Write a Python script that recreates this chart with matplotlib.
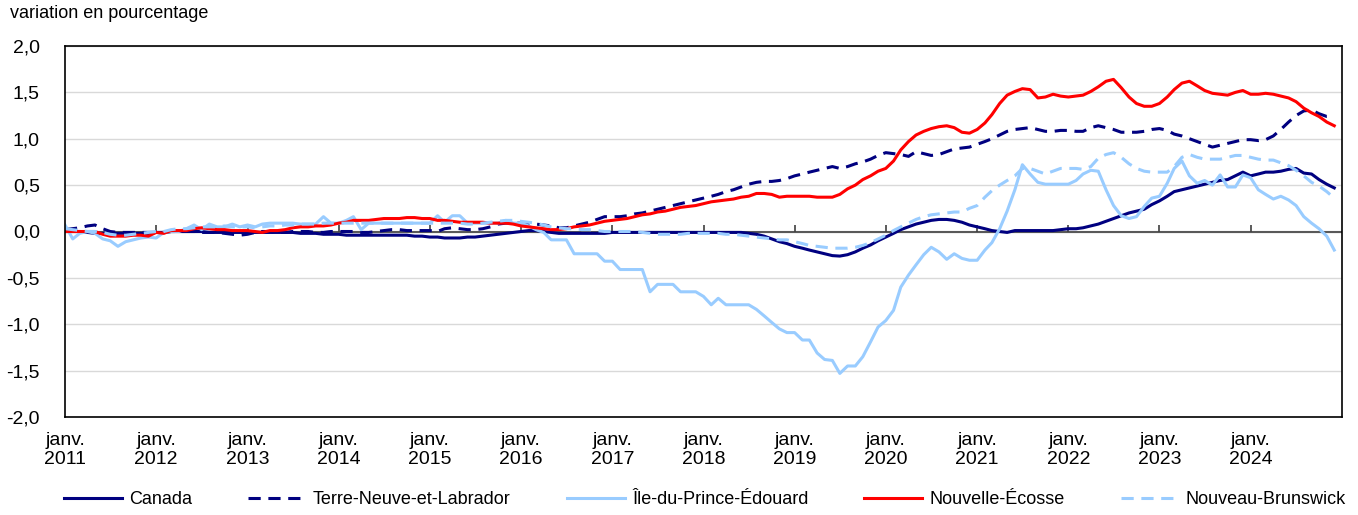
import matplotlib
matplotlib.use("Agg")
import matplotlib.pyplot as plt
import matplotlib.ticker as mticker
import pandas as pd

plt.rcParams['font.family'] = ['Liberation Sans', 'DejaVu Sans']
plt.rcParams['font.size'] = 13

# variation mensuelle en pourcentage, janv. 2011 a déc. 2024
mois = pd.date_range("2011-01-01", periods=168, freq="MS")

canada = [
    0.00, 0.00, 0.00, -0.01, -0.02, -0.02, -0.02, -0.02, -0.02, -0.02, -0.02, -0.02,
    -0.01, -0.01, 0.00, 0.00, 0.00, 0.00, 0.00, -0.01, -0.01, -0.01, -0.01, -0.01,
    -0.01, -0.01, -0.01, -0.01, -0.01, -0.01, -0.01, -0.02, -0.02, -0.02, -0.03, -0.03,
    -0.03, -0.04, -0.04, -0.04, -0.04, -0.04, -0.04, -0.04, -0.04, -0.04, -0.05, -0.05,
    -0.06, -0.06, -0.07, -0.07, -0.07, -0.06, -0.06, -0.05, -0.04, -0.03, -0.02, -0.01,
    0.00, 0.01, 0.01, 0.00, -0.01, -0.02, -0.02, -0.02, -0.02, -0.02, -0.02, -0.02,
    -0.01, -0.01, -0.01, -0.01, -0.01, -0.01, -0.01, -0.01, -0.01, -0.01, -0.01, -0.01,
    -0.01, -0.01, -0.01, -0.01, -0.01, -0.01, -0.02, -0.03, -0.05, -0.08, -0.11, -0.13,
    -0.16, -0.18, -0.20, -0.22, -0.24, -0.26, -0.265, -0.25, -0.22, -0.18, -0.145, -0.10,
    -0.06, -0.02, 0.02, 0.05, 0.08, 0.10, 0.12, 0.13, 0.13, 0.12, 0.10, 0.07,
    0.05, 0.03, 0.01, 0.00, -0.01, 0.01, 0.01, 0.01, 0.01, 0.01, 0.01, 0.02,
    0.03, 0.03, 0.04, 0.06, 0.08, 0.11, 0.14, 0.17, 0.20, 0.22, 0.24, 0.29,
    0.33, 0.38, 0.43, 0.45, 0.47, 0.49, 0.51, 0.53, 0.55, 0.56, 0.60, 0.64,
    0.60, 0.62, 0.64, 0.64, 0.65, 0.67, 0.68, 0.63, 0.62, 0.56, 0.51, 0.47,
]

terre_neuve = [
    0.02, 0.03, 0.04, 0.06, 0.07, 0.03, 0.00, -0.01, -0.01, -0.01, -0.01, -0.01,
    -0.01, -0.01, 0.00, 0.00, 0.00, 0.00, -0.01, -0.01, -0.01, -0.02, -0.03, -0.04,
    -0.03, -0.01, 0.00, 0.00, -0.01, -0.01, 0.00, 0.00, 0.00, -0.01, -0.01, 0.00,
    0.00, 0.00, 0.00, -0.01, -0.01, 0.00, 0.01, 0.02, 0.02, 0.01, 0.01, 0.01,
    0.01, 0.00, 0.03, 0.04, 0.03, 0.02, 0.02, 0.03, 0.05, 0.08, 0.09, 0.09,
    0.09, 0.08, 0.08, 0.07, 0.06, 0.04, 0.04, 0.06, 0.08, 0.10, 0.13, 0.16,
    0.16, 0.16, 0.17, 0.19, 0.20, 0.22, 0.24, 0.26, 0.28, 0.30, 0.32, 0.34,
    0.36, 0.38, 0.40, 0.43, 0.45, 0.48, 0.51, 0.53, 0.54, 0.54, 0.55, 0.57,
    0.60, 0.62, 0.64, 0.66, 0.68, 0.70, 0.68, 0.70, 0.73, 0.75, 0.78, 0.82,
    0.85, 0.84, 0.83, 0.81, 0.86, 0.84, 0.82, 0.83, 0.86, 0.89, 0.90, 0.91,
    0.94, 0.97, 1.00, 1.04, 1.08, 1.10, 1.11, 1.12, 1.10, 1.08, 1.08, 1.09,
    1.09, 1.08, 1.08, 1.12, 1.14, 1.12, 1.10, 1.07, 1.07, 1.07, 1.08, 1.10,
    1.11, 1.09, 1.05, 1.03, 1.00, 0.97, 0.94, 0.91, 0.93, 0.95, 0.97, 0.99,
    0.99, 0.98, 0.99, 1.03, 1.10, 1.18, 1.25, 1.30, 1.31, 1.27, 1.24, 1.24,
]

ipe = [
    0.07, -0.08, -0.02, 0.00, -0.02, -0.08, -0.10, -0.16, -0.11, -0.09, -0.07, -0.06,
    -0.07, -0.01, 0.00, 0.00, 0.03, 0.07, 0.02, 0.08, 0.05, 0.05, 0.08, 0.05,
    0.07, 0.05, 0.08, 0.09, 0.09, 0.09, 0.09, 0.08, 0.08, 0.08, 0.16, 0.09,
    0.09, 0.12, 0.16, 0.02, 0.09, 0.09, 0.09, 0.09, 0.09, 0.09, 0.09, 0.09,
    0.09, 0.17, 0.10, 0.17, 0.17, 0.09, 0.09, 0.09, 0.09, 0.09, 0.12, 0.09,
    0.09, 0.06, 0.02, -0.01, -0.09, -0.09, -0.09, -0.24, -0.24, -0.24, -0.24, -0.32,
    -0.32, -0.41, -0.41, -0.41, -0.41, -0.65, -0.57, -0.57, -0.57, -0.65, -0.65, -0.65,
    -0.70, -0.79, -0.72, -0.79, -0.79, -0.79, -0.79, -0.84, -0.91, -0.98, -1.05, -1.09,
    -1.09, -1.17, -1.17, -1.31, -1.38, -1.39, -1.53, -1.45, -1.45, -1.35, -1.19, -1.03,
    -0.96, -0.85, -0.60, -0.47, -0.36, -0.25, -0.17, -0.22, -0.30, -0.24, -0.29, -0.31,
    -0.31, -0.20, -0.12, 0.03, 0.22, 0.45, 0.72, 0.62, 0.53, 0.51, 0.51, 0.51,
    0.51, 0.55, 0.62, 0.66, 0.65, 0.45, 0.28, 0.17, 0.14, 0.16, 0.27, 0.36,
    0.38, 0.52, 0.68, 0.76, 0.60, 0.52, 0.55, 0.50, 0.61, 0.48, 0.48, 0.61,
    0.58, 0.45, 0.40, 0.35, 0.38, 0.34, 0.28, 0.16, 0.09, 0.03, -0.05, -0.20,
]

nouvelle_ecosse = [
    0.00, 0.00, 0.00, 0.00, 0.00, -0.03, -0.05, -0.05, -0.05, -0.04, -0.04, -0.05,
    -0.01, -0.02, 0.01, 0.01, 0.01, 0.03, 0.04, 0.03, 0.02, 0.02, 0.01, 0.01,
    0.01, 0.00, -0.01, 0.01, 0.01, 0.02, 0.04, 0.05, 0.05, 0.06, 0.06, 0.07,
    0.09, 0.10, 0.12, 0.12, 0.12, 0.13, 0.14, 0.14, 0.14, 0.15, 0.15, 0.14,
    0.14, 0.12, 0.12, 0.11, 0.10, 0.10, 0.10, 0.10, 0.09, 0.09, 0.09, 0.08,
    0.06, 0.05, 0.04, 0.03, 0.02, 0.02, 0.03, 0.05, 0.06, 0.07, 0.09, 0.11,
    0.12, 0.13, 0.14, 0.16, 0.18, 0.19, 0.21, 0.22, 0.24, 0.26, 0.27, 0.28,
    0.30, 0.32, 0.33, 0.34, 0.35, 0.37, 0.38, 0.41, 0.41, 0.40, 0.37, 0.38,
    0.38, 0.38, 0.38, 0.37, 0.37, 0.37, 0.40, 0.46, 0.50, 0.56, 0.60, 0.65,
    0.68, 0.76, 0.88, 0.97, 1.04, 1.08, 1.11, 1.13, 1.14, 1.12, 1.07, 1.06,
    1.10, 1.17, 1.26, 1.38, 1.47, 1.51, 1.54, 1.53, 1.44, 1.45, 1.48, 1.46,
    1.45, 1.46, 1.47, 1.51, 1.56, 1.62, 1.64, 1.55, 1.45, 1.38, 1.35, 1.35,
    1.38, 1.45, 1.53, 1.60, 1.62, 1.57, 1.52, 1.49, 1.48, 1.47, 1.50, 1.52,
    1.48, 1.48, 1.49, 1.48, 1.46, 1.44, 1.40, 1.33, 1.28, 1.24, 1.18, 1.14,
]

nouveau_brunswick = [
    0.03, 0.02, 0.01, 0.00, 0.00, -0.01, -0.03, -0.04, -0.04, -0.03, -0.02, -0.01,
    0.00, 0.00, 0.02, 0.03, 0.03, 0.04, 0.05, 0.05, 0.05, 0.06, 0.05, 0.05,
    0.05, 0.04, 0.05, 0.06, 0.06, 0.07, 0.07, 0.08, 0.08, 0.08, 0.09, 0.09,
    0.09, 0.09, 0.09, 0.09, 0.09, 0.09, 0.09, 0.09, 0.09, 0.09, 0.09, 0.09,
    0.09, 0.09, 0.09, 0.09, 0.09, 0.08, 0.08, 0.09, 0.10, 0.11, 0.12, 0.12,
    0.11, 0.10, 0.09, 0.07, 0.05, 0.04, 0.03, 0.03, 0.02, 0.02, 0.01, 0.00,
    0.00, 0.00, 0.00, 0.00, -0.01, -0.02, -0.03, -0.03, -0.03, -0.03, -0.02, -0.02,
    -0.02, -0.02, -0.02, -0.03, -0.03, -0.04, -0.05, -0.06, -0.07, -0.08, -0.09, -0.09,
    -0.11, -0.13, -0.15, -0.16, -0.17, -0.18, -0.18, -0.18, -0.17, -0.15, -0.12, -0.08,
    -0.04, 0.01, 0.05, 0.09, 0.13, 0.16, 0.18, 0.19, 0.20, 0.21, 0.21, 0.25,
    0.28, 0.37, 0.44, 0.50, 0.55, 0.60, 0.68, 0.68, 0.65, 0.62, 0.65, 0.68,
    0.68, 0.68, 0.67, 0.70, 0.79, 0.83, 0.85, 0.80, 0.73, 0.68, 0.65, 0.64,
    0.64, 0.64, 0.70, 0.80, 0.83, 0.80, 0.78, 0.78, 0.78, 0.80, 0.82, 0.82,
    0.80, 0.78, 0.77, 0.77, 0.74, 0.71, 0.66, 0.60, 0.53, 0.49, 0.43, 0.36,
]

annees = list(range(2011, 2025))
etiquettes = [f"janv.\n{a}" for a in annees]

fig = plt.figure(figsize=(13.58, 5.15), dpi=100)
ax = fig.add_axes([65 / 1358, 1 - 417 / 515, 1277 / 1358, 371 / 515])

navy = "#000080"
bleu_pale = "#99CCFF"
lw = 2.2
ax.plot(mois, canada, color=navy, lw=lw, label="Canada")
ax.plot(mois, terre_neuve, color=navy, lw=lw, dashes=(4, 2.5), label="Terre-Neuve-et-Labrador")
ax.plot(mois, ipe, color=bleu_pale, lw=lw, label="Île-du-Prince-Édouard")
ax.plot(mois, nouvelle_ecosse, color="#FF0000", lw=lw, label="Nouvelle-Écosse")
ax.plot(mois, nouveau_brunswick, color=bleu_pale, lw=lw, dashes=(4, 2.5), label="Nouveau-Brunswick")

ax.set_xlim(pd.Timestamp("2011-01-01"), pd.Timestamp("2025-01-01"))
ax.set_ylim(-2.0, 2.0)
ax.set_yticks([-2.0, -1.5, -1.0, -0.5, 0.0, 0.5, 1.0, 1.5, 2.0])
ax.yaxis.set_major_formatter(mticker.FuncFormatter(lambda v, p: f"{v:.1f}".replace(".", ",")))
ax.grid(axis="y", color="#D9D9D9", lw=1)
ax.set_axisbelow(True)
ax.axhline(0, color="#595959", lw=1.5, zorder=1.5)

jan = [pd.Timestamp(f"{a}-01-01") for a in annees]
ax.set_xticks(jan)
ax.set_xticklabels(etiquettes, linespacing=1.1)
ax.tick_params(axis="x", length=0, pad=11, labelsize=14)
ax.tick_params(axis="y", length=0, pad=18, labelsize=14)
# petites marques sur la ligne du zéro
ax.plot(jan[1:], [0] * (len(jan) - 1), ls="none", marker=2, ms=5, mew=1.2, color="#404040", zorder=1.6)

for s in ax.spines.values():
    s.set_color("black")
    s.set_linewidth(1.2)

fig.text(10 / 1358, 1 - 14 / 515, "variation en pourcentage", ha="left", va="center")

h, l = ax.get_legend_handles_labels()
fig.legend(h, l, loc="center", bbox_to_anchor=(64 / 1358, 1 - 500 / 515, 1282 / 1358, 0),
           ncol=5, mode="expand", frameon=False, handlelength=3.2, handletextpad=0.4,
           borderaxespad=0, borderpad=0)

fig.savefig("out.png", dpi=100)
